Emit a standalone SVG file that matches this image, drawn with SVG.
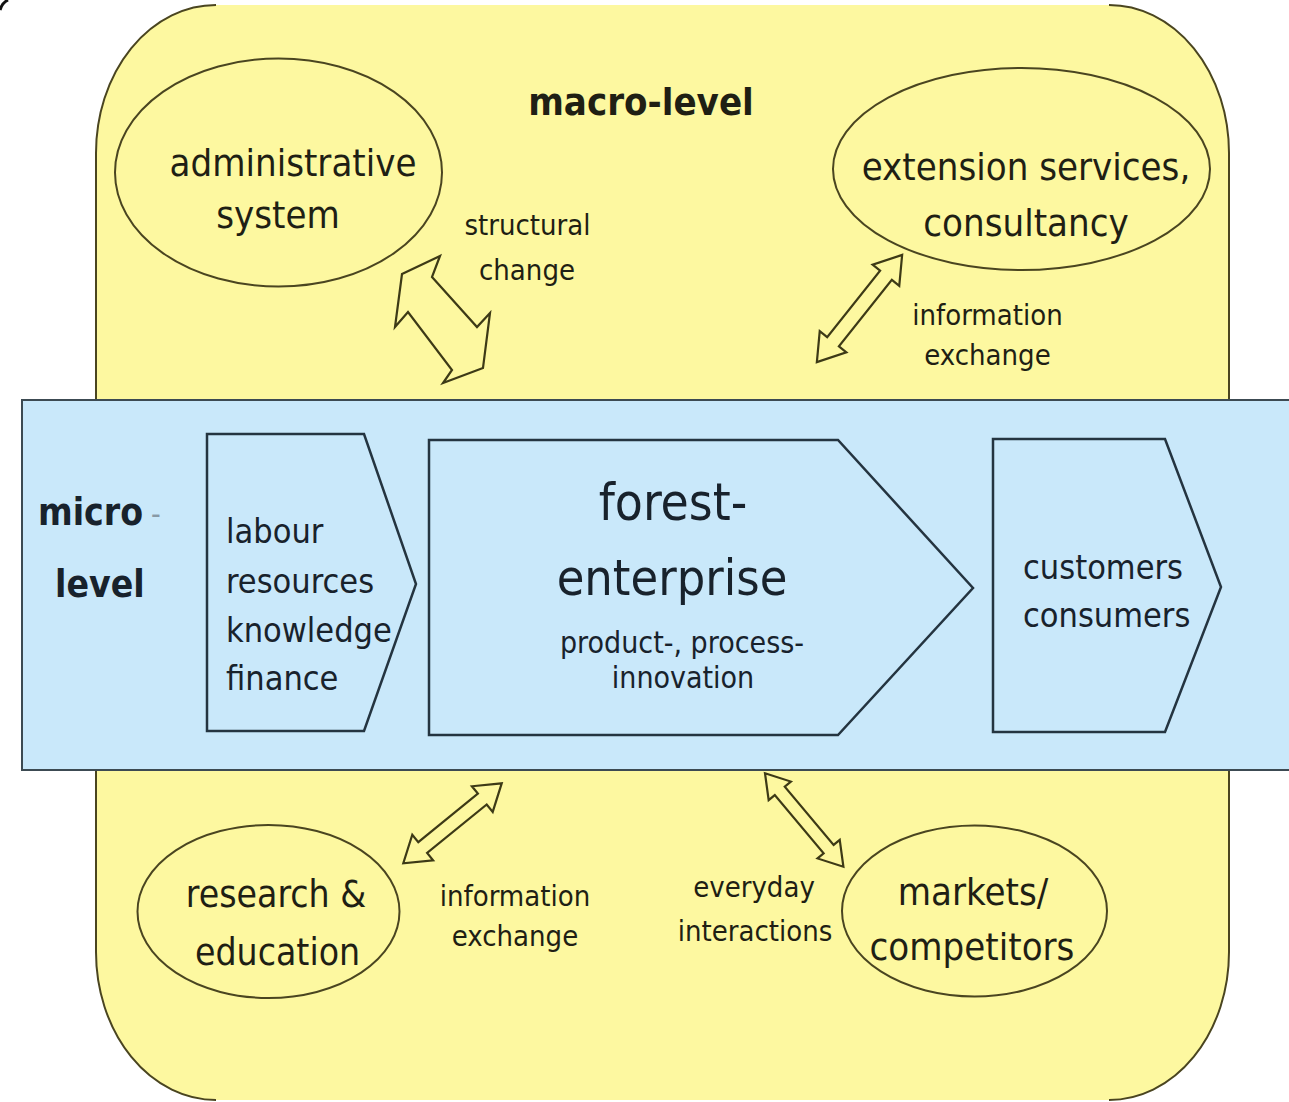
<svg xmlns="http://www.w3.org/2000/svg" width="1289" height="1102" viewBox="0 0 1289 1102">
  <style>
    text { font-family: "DejaVu Sans Condensed", "DejaVu Sans", sans-serif; font-stretch: condensed; fill: #1f1f14; }
    .c { text-anchor: middle; }
    .b { font-weight: bold; }
    .frame-edge { fill: none; stroke: #4a4520; stroke-width: 2; }
    .macro { fill: #fdf8a0; stroke: #4a4520; stroke-width: 2; }
    .band { fill: #c9e8fa; stroke: #3c4a52; stroke-width: 2; }
    .step { fill: #c9e8fa; stroke: #243440; stroke-width: 2.5; stroke-linejoin: miter; }
    .arrow { fill: #fdf8a0; stroke: #3d3a16; stroke-width: 2.2; stroke-linejoin: miter; }
    .blue-text { fill: #18222c; }
  </style>

  <!-- macro-level frame -->
  <g id="macro-frame">
    <rect x="96" y="5" width="1133" height="1095" rx="120" ry="148" fill="#fdf8a0"/>
    <path class="frame-edge" d="M216,5 A120,148 0 0 0 96,153 L96,952 A120,148 0 0 0 216,1100"/>
    <path class="frame-edge" d="M1109,5 A120,148 0 0 1 1229,153 L1229,952 A120,148 0 0 1 1109,1100"/>
    <path d="M0,10 Q2,3 8,0" fill="none" stroke="#111" stroke-width="3"/>
  </g>

  <g id="macro-label">
    <text class="c b" x="641" y="115" font-size="38">macro-level</text>
  </g>

  <!-- macro actors -->
  <g id="administrative-system">
    <ellipse class="macro" cx="278.5" cy="172.5" rx="163.5" ry="114"/>
    <text class="c" x="293" y="176" font-size="38">administrative</text>
    <text class="c" x="278" y="228" font-size="38">system</text>
  </g>

  <g id="extension-services">
    <ellipse class="macro" cx="1021.5" cy="169" rx="188.5" ry="101"/>
    <text class="c" x="1026" y="180" font-size="38">extension services,</text>
    <text class="c" x="1026" y="236" font-size="38">consultancy</text>
  </g>

  <g id="research-education">
    <ellipse class="macro" cx="268.5" cy="911.5" rx="131" ry="86.5"/>
    <text class="c" x="276" y="907" font-size="37">research &amp;</text>
    <text class="c" x="277.5" y="965" font-size="37">education</text>
  </g>

  <g id="markets-competitors">
    <ellipse class="macro" cx="974.5" cy="911" rx="132.5" ry="85.5"/>
    <text class="c" x="973" y="905" font-size="38">markets/</text>
    <text class="c" x="972" y="960" font-size="38">competitors</text>
  </g>

  <!-- micro-level band -->
  <g id="micro-band">
    <rect class="band" x="22" y="400" width="1290" height="370"/>
  </g>

  <g id="micro-label">
    <text class="b blue-text" x="38" y="525" font-size="37">micro</text>
    <text x="151" y="524" font-size="30" style="fill:#8799a6">-</text>
    <text class="b blue-text" x="55" y="597" font-size="37">level</text>
  </g>

  <g id="inputs">
    <path class="step" d="M207,434 L364,434 L416,584 L364,731 L207,731 Z"/>
    <text class="blue-text" x="226" y="543" font-size="34">labour</text>
    <text class="blue-text" x="226" y="593" font-size="34">resources</text>
    <text class="blue-text" x="226" y="642" font-size="34">knowledge</text>
    <text class="blue-text" x="226" y="690" font-size="34">finance</text>
  </g>

  <g id="forest-enterprise">
    <path class="step" d="M429,440 L838,440 L973,588 L838,735 L429,735 Z"/>
    <text class="c blue-text" x="673" y="520" font-size="51">forest-</text>
    <text class="c blue-text" x="672" y="595" font-size="50">enterprise</text>
    <text class="c blue-text" x="682" y="653" font-size="30">product-, process-</text>
    <text class="c blue-text" x="683" y="688" font-size="30">innovation</text>
  </g>

  <g id="customers">
    <path class="step" d="M993,439 L1165,439 L1221,587 L1165,732 L993,732 Z"/>
    <text class="blue-text" x="1023" y="579" font-size="34">customers</text>
    <text class="blue-text" x="1023" y="627" font-size="34">consumers</text>
  </g>

  <!-- exchange arrows between macro actors and the enterprise level -->
  <g id="connectors">
    <path id="arrow-structural" class="arrow"
          d="M402,274 L440,256 L432,277 L477,327 L490,313 L483,368 L443,383 L452,370 L408,312 L395,327 Z"/>
    <path id="arrow-extension" class="arrow" transform="translate(859.5,308.5) rotate(128.5)"
          d="M-68.5,0 L-42.5,-17 L-42.5,-7.5 L42.5,-7.5 L42.5,-17 L68.5,0 L42.5,17 L42.5,7.5 L-42.5,7.5 L-42.5,17 Z"/>
    <path id="arrow-research" class="arrow" transform="translate(452.5,823.3) rotate(140.9)"
          d="M-63.4,0 L-38.4,-16.5 L-38.4,-7 L38.4,-7 L38.4,-16.5 L63.4,0 L38.4,16.5 L38.4,7 L-38.4,7 L-38.4,16.5 Z"/>
    <path id="arrow-markets" class="arrow" transform="translate(804.2,820) rotate(50)"
          d="M-61,0 L-38,-14.5 L-38,-6.5 L38,-6.5 L38,-14.5 L61,0 L38,14.5 L38,6.5 L-38,6.5 L-38,14.5 Z"/>

    <text class="c" x="527.5" y="235" font-size="29">structural</text>
    <text class="c" x="527" y="280" font-size="29">change</text>

    <text class="c" x="987.5" y="325" font-size="29">information</text>
    <text class="c" x="987.5" y="365" font-size="29">exchange</text>

    <text class="c" x="515" y="906" font-size="29">information</text>
    <text class="c" x="515" y="946" font-size="29">exchange</text>

    <text class="c" x="754" y="897" font-size="29">everyday</text>
    <text class="c" x="755" y="941" font-size="29">interactions</text>
  </g>
</svg>
